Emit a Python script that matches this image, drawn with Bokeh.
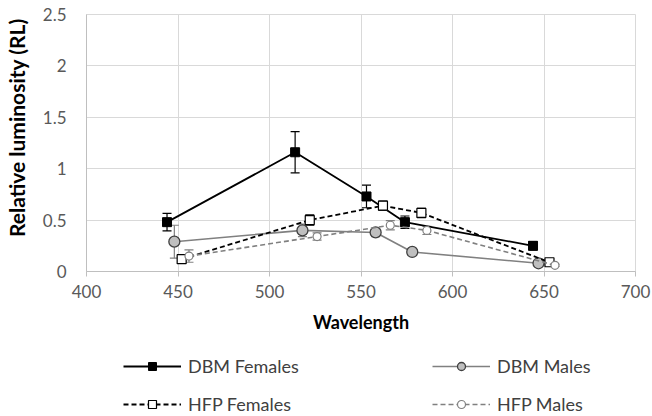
from bokeh.plotting import figure
from bokeh.layouts import column
from bokeh.models import (ColumnDataSource, Whisker, TeeHead, Legend, LegendItem,
                          FixedTicker, Range1d)
from bokeh.embed import file_html
from bokeh.resources import INLINE

# ---- data ----
dbm_f_x = [444, 514, 553, 574, 644]
dbm_f_y = [0.48, 1.16, 0.73, 0.48, 0.25]
dbm_f_err = [0.085, 0.20, 0.11, 0.06, 0.04]

dbm_m_x = [448, 518, 558, 578, 647]
dbm_m_y = [0.29, 0.40, 0.38, 0.19, 0.08]
dbm_m_err = [0.16, 0.06, 0.04, 0.02, 0.01]

hfp_f_x = [452, 522, 562, 583, 653]
hfp_f_y = [0.12, 0.50, 0.64, 0.57, 0.09]
hfp_f_err = [0.02, 0.05, 0.045, 0.045, 0.02]

hfp_m_x = [456, 526, 566, 586, 656]
hfp_m_y = [0.15, 0.34, 0.45, 0.40, 0.06]
hfp_m_err = [0.06, 0.035, 0.045, 0.04, 0.01]

x_ticks = [400, 450, 500, 550, 600, 650, 700]
y_ticks = [0, 0.5, 1, 1.5, 2, 2.5]

FONT = "Lato"
H_MAIN = 345
H_LEG = 71

p = figure(width=652, height=H_MAIN, output_backend="svg", toolbar_location=None,
           x_range=Range1d(400, 700), y_range=Range1d(0, 2.5),
           min_border_left=83, min_border_right=17, min_border_top=14, min_border_bottom=74)
p.outline_line_color = "#d9d9d9"
p.background_fill_color = "white"
p.border_fill_color = "white"

p.xgrid.ticker = FixedTicker(ticks=x_ticks)
p.ygrid.ticker = FixedTicker(ticks=y_ticks)
p.xgrid.grid_line_color = "#d9d9d9"
p.ygrid.grid_line_color = "#d9d9d9"

p.xaxis.ticker = FixedTicker(ticks=x_ticks)
p.yaxis.ticker = FixedTicker(ticks=y_ticks)
p.yaxis.major_label_overrides = {0: "0", 0.5: "0.5", 1: "1", 1.5: "1.5", 2: "2", 2.5: "2.5"}
for ax in (p.xaxis, p.yaxis):
    ax.axis_line_color = "#bfbfbf"
    ax.major_tick_line_color = "#bfbfbf"
    ax.minor_tick_line_color = None
    ax.major_label_text_font = FONT
    ax.major_label_text_font_size = "17px"
    ax.major_label_text_color = "#595959"
    ax.axis_label_text_font = FONT
    ax.axis_label_text_font_style = "bold"
    ax.axis_label_text_font_size = "18px"
    ax.axis_label_text_color = "#000000"
p.xaxis.major_tick_in = 0
p.xaxis.major_tick_out = 5
p.xaxis.major_label_standoff = 8
p.xaxis.axis_label = "Wavelength"
p.xaxis.axis_label_standoff = 10
p.yaxis.major_tick_in = 0
p.yaxis.major_tick_out = 0
p.yaxis.major_label_standoff = 20
p.yaxis.axis_label = "\u00a0" * 6 + "Relative luminosity (RL)"
p.yaxis.axis_label_standoff = 11
p.yaxis.axis_label_text_font_size = "21px"

series = [
    ("DBM Females", dbm_f_x, dbm_f_y, dbm_f_err,
     dict(line_color="black", line_width=1.8, line_dash="solid"),
     dict(marker="square", size=9, fill_color="black", line_color="black"), 7),
    ("DBM Males", dbm_m_x, dbm_m_y, dbm_m_err,
     dict(line_color="#808080", line_width=1.6, line_dash="solid"),
     dict(marker="circle", size=11, fill_color="#bfbfbf", line_color="#404040", line_width=1.3), 8),
    ("HFP Females", hfp_f_x, hfp_f_y, hfp_f_err,
     dict(line_color="black", line_width=1.8, line_dash="5 3"),
     dict(marker="square", size=9, fill_color="white", line_color="black", line_width=1.2), 7),
    ("HFP Males", hfp_m_x, hfp_m_y, hfp_m_err,
     dict(line_color="#808080", line_width=1.6, line_dash="5 3"),
     dict(marker="circle", size=8, fill_color="white", line_color="#808080", line_width=1.2), 6),
]

# legend figure (below the chart); its ranges keep the data out of view
pl = figure(width=652, height=H_LEG, output_backend="svg", toolbar_location=None,
            x_range=Range1d(0, 1), y_range=Range1d(10, 11),
            x_axis_type=None, y_axis_type=None,
            min_border=0, min_border_left=0, min_border_right=0,
            min_border_top=0, min_border_bottom=0)
pl.outline_line_color = None
pl.background_fill_color = "white"
pl.border_fill_color = "white"

items = []
for name, xs, ys, errs, lkw, mkw, leg_size in series:
    src = ColumnDataSource(dict(x=xs, y=ys,
                                upper=[y + e for y, e in zip(ys, errs)],
                                lower=[y - e for y, e in zip(ys, errs)]))
    p.line("x", "y", source=src, **lkw)
    w = Whisker(base="x", upper="upper", lower="lower", source=src,
                line_color=lkw["line_color"], line_width=1.2,
                upper_head=TeeHead(size=9, line_color=lkw["line_color"], line_width=1.2),
                lower_head=TeeHead(size=9, line_color=lkw["line_color"], line_width=1.2))
    p.add_layout(w)
    p.scatter("x", "y", source=src, **mkw)
    lr = pl.line("x", "y", source=src, **lkw)
    mk = dict(mkw)
    mk["size"] = leg_size
    sr = pl.scatter("x", "y", source=src, **mk)
    items.append(LegendItem(label=name, renderers=[lr, sr]))

legend = Legend(items=items, location=(37, 1), orientation="horizontal", ncols=2,
                glyph_width=58, glyph_height=20, label_height=20, label_standoff=7,
                label_width=228, spacing=16, padding=0, margin=0,
                label_text_font=FONT, label_text_font_size="18px",
                label_text_color="#404040",
                border_line_color=None, background_fill_alpha=0)
pl.add_layout(legend, "center")

layout = column(p, pl, spacing=0)
open("out.html", "w").write(file_html(layout, INLINE))
